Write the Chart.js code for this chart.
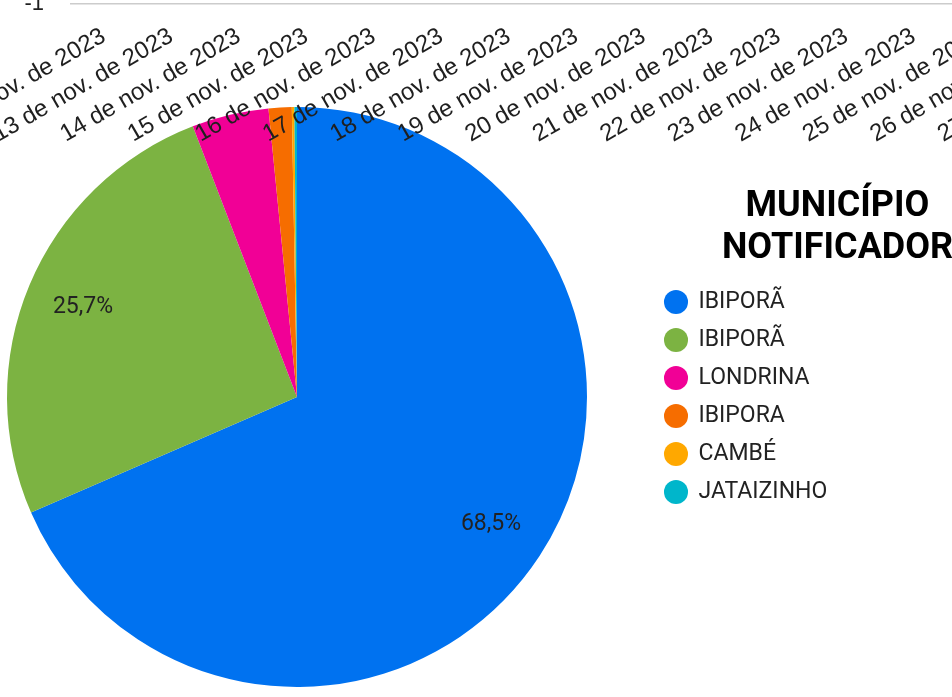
<!DOCTYPE html>
<html lang="pt-BR">
<head>
<meta charset="utf-8">
<title>Município notificador</title>
<script src="https://cdn.jsdelivr.net/npm/chart.js@4"></script>
<style>
  html, body { margin: 0; padding: 0; background: #fff; }
  body { width: 952px; height: 697px; overflow: hidden; position: relative; }
  canvas { position: absolute; }
  /* pie sits under the leftover date axis of the chart above it */
  #pieChart { left: -60px; top: 0; z-index: 1; }
  #dateAxis { left: 0; top: -146px; z-index: 2; pointer-events: none; }
</style>
</head>
<body>
<canvas id="pieChart" width="1020" height="697"></canvas>
<canvas id="dateAxis" width="1150" height="300"></canvas>
<script>
// --- pie data ---
const municipios = ['IBIPORÃ', 'IBIPORÃ', 'LONDRINA', 'IBIPORA', 'CAMBÉ', 'JATAIZINHO'];
const notificacoes = [480, 180, 30, 9, 1, 1];
const coresMunicipios = ['#0072f0', '#7cb342', '#f10096', '#f66d00', '#ffa800', '#00b6cb'];
const tituloLegenda = ['MUNICÍPIO', 'NOTIFICADOR'];

// --- date axis left over from the chart above ---
const datas = [
    '12 de nov. de 2023', '13 de nov. de 2023', '14 de nov. de 2023', '15 de nov. de 2023',
    '16 de nov. de 2023', '17 de nov. de 2023', '18 de nov. de 2023', '19 de nov. de 2023',
    '20 de nov. de 2023', '21 de nov. de 2023', '22 de nov. de 2023', '23 de nov. de 2023',
    '24 de nov. de 2023', '25 de nov. de 2023', '26 de nov. de 2023', '27 de nov. de 2023'
];
const casosPorDia = []; // no bars visible in this crop
const eixoYMin = -1;
const eixoYMax = 0;

const FONTE_LEGENDA = 23;
const PADDING_LEGENDA = 15;
const CANVAS_PIE_W = 1020;
const AREA_PIE_DIREITA = 710; // where the legend column starts (canvas px)

// Legend is as wide as its longest label; measure it so the column lands in place
function larguraLegenda() {
    const ctx = document.createElement('canvas').getContext('2d');
    ctx.font = FONTE_LEGENDA + 'px Roboto';
    const texto = Math.max(...municipios.map(t => ctx.measureText(t).width));
    return PADDING_LEGENDA + 22 + FONTE_LEGENDA / 2 + texto + 10;
}

// Percent labels inside the big slices
const rotulosPercentuais = {
    id: 'rotulosPercentuais',
    afterDatasetsDraw(chart) {
        const ctx = chart.ctx;
        const meta = chart.getDatasetMeta(0);
        const total = notificacoes.reduce((a, b) => a + b, 0);
        ctx.save();
        ctx.font = '400 23px Roboto';
        ctx.fillStyle = '#222';
        ctx.textAlign = 'center';
        ctx.textBaseline = 'middle';
        meta.data.forEach((arc, i) => {
            const pct = notificacoes[i] / total * 100;
            if (pct < 5) return;
            const p = arc.getProps(['x', 'y', 'startAngle', 'endAngle', 'outerRadius'], true);
            const mid = (p.startAngle + p.endAngle) / 2;
            const r = p.outerRadius * 0.8;
            ctx.fillText(pct.toFixed(1).replace('.', ',') + '%', p.x + Math.cos(mid) * r, p.y + Math.sin(mid) * r);
        });
        ctx.restore();
    }
};

// Legend heading, centred over the legend column like the original
const tituloLegendaPlugin = {
    id: 'tituloLegenda',
    afterDraw(chart) {
        const ctx = chart.ctx;
        const cx = chart.legend.left + 187.5;
        ctx.save();
        ctx.font = '700 36px Roboto';
        ctx.fillStyle = '#000';
        ctx.textAlign = 'center';
        ctx.textBaseline = 'middle';
        tituloLegenda.forEach((linha, i) => ctx.fillText(linha, cx, 207 + i * 42));
        ctx.restore();
    }
};

new Chart(document.getElementById('pieChart'), {
    type: 'pie',
    data: {
        labels: municipios,
        datasets: [{
            data: notificacoes,
            backgroundColor: coresMunicipios,
            borderWidth: 0,
            hoverOffset: 0
        }]
    },
    options: {
        responsive: false,
        animation: false,
        layout: {
            padding: {
                left: 4,
                right: CANVAS_PIE_W - AREA_PIE_DIREITA - larguraLegenda(),
                top: 107,
                bottom: 10
            }
        },
        plugins: {
            legend: {
                position: 'right',
                align: 'center',
                labels: {
                    usePointStyle: true,
                    pointStyle: 'circle',
                    boxWidth: 22,
                    boxHeight: 17,
                    padding: PADDING_LEGENDA,
                    color: '#222',
                    font: { family: 'Roboto', size: FONTE_LEGENDA }
                }
            },
            tooltip: { enabled: false }
        }
    },
    plugins: [rotulosPercentuais, tituloLegendaPlugin]
});

new Chart(document.getElementById('dateAxis'), {
    type: 'bar',
    data: {
        labels: datas,
        datasets: [{ data: casosPorDia, backgroundColor: '#0072f0' }]
    },
    options: {
        responsive: false,
        animation: false,
        layout: { padding: 0 },
        plugins: { legend: { display: false }, tooltip: { enabled: false } },
        scales: {
            x: {
                grid: { display: false },
                border: { display: false },
                ticks: {
                    autoSkip: false,
                    minRotation: 30,
                    maxRotation: 30,
                    padding: 10,
                    color: '#1f1f1f',
                    font: { family: 'Liberation Sans', size: 24 }
                },
                afterFit(scale) {
                    scale.height = 150;
                    scale.paddingLeft = 0;
                    scale.paddingRight = 0;
                }
            },
            y: {
                min: eixoYMin,
                max: eixoYMax,
                ticks: {
                    stepSize: 1,
                    padding: 26,
                    color: '#1f1f1f',
                    font: { family: 'Liberation Sans', size: 22 }
                },
                grid: { color: '#cccccc', lineWidth: 1.5, drawTicks: false },
                border: { display: false },
                afterFit(scale) { scale.width = 70; }
            }
        }
    }
});
</script>
</body>
</html>
